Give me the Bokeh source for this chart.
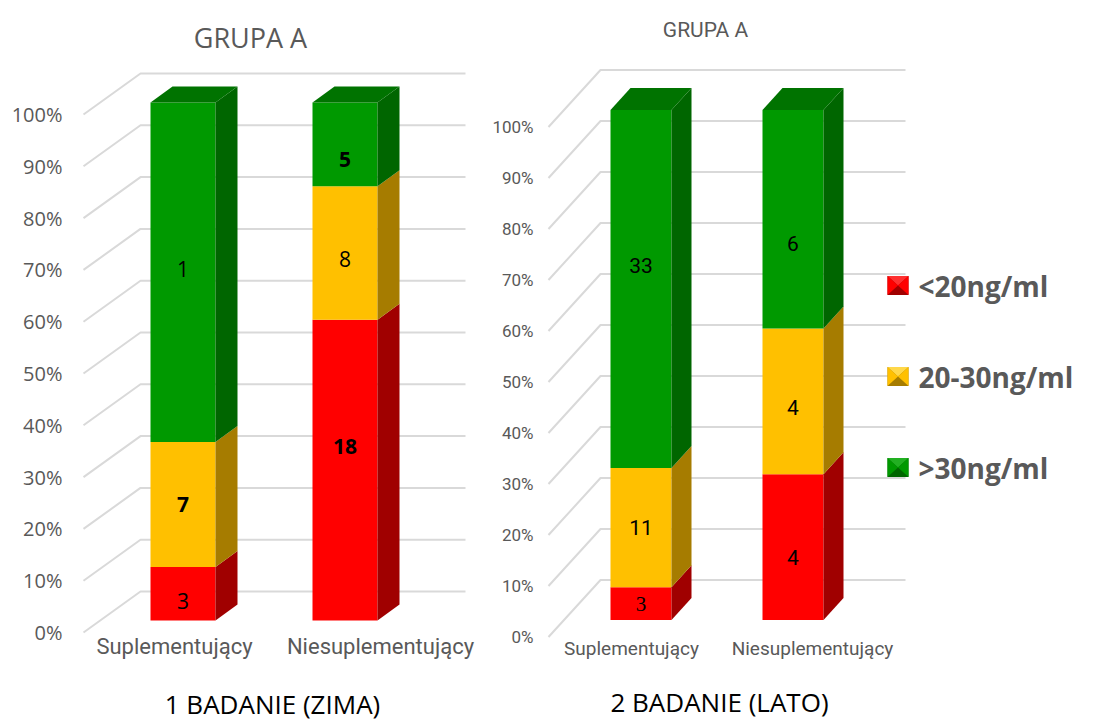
from bokeh.plotting import figure
from bokeh.layouts import row
from bokeh.models import Range1d, FixedTicker, PrintfTickFormatter
from bokeh.core.properties import value
from bokeh.embed import file_html
from bokeh.resources import INLINE

# ---------------------------------------------------------------- data
categories = ["Suplementujący", "Niesuplementujący"]
levels = ["<20ng/ml", "20-30ng/ml", ">30ng/ml"]

# 1 BADANIE (ZIMA) - counts per category
zima_low = [3, 18]
zima_mid = [7, 8]
zima_high = [19, 5]
# printed segment labels (bottom, middle, top) per category
zima_text_low = ["3", "18"]
zima_text_mid = ["7", "8"]
zima_text_high = ["1", "5"]

# 2 BADANIE (LATO) - counts per category
lato_low = [3, 4]
lato_mid = [11, 4]
lato_high = [33, 6]
lato_text_low = ["3", "4"]
lato_text_mid = ["11", "4"]
lato_text_high = ["33", "6"]

y_ticks = [0, 10, 20, 30, 40, 50, 60, 70, 80, 90, 100]

# ---------------------------------------------------------------- style
H = 722
FRONT = ["#FF0000", "#FFC000", "#009900"]
SIDE = ["#A00000", "#A67C00", "#006600"]
TOP = ["#C00000", "#D9A300", "#007300"]
GRID = "#D9D9D9"
GREY = "#595959"
NARROW = "Roboto"


def to_pct(counts):
    return [[c / sum(col) * 100 for c in col] for col in zip(*counts)]


def panel(width, border_left, y0, k, cfg):
    """One 3-D stacked 100% column chart. Horizontal data units equal
    pixels; vertical data units are percent on the front wall."""
    p = figure(width=width, height=H, output_backend="svg", toolbar_location=None,
               x_axis_type=None, min_border_left=border_left, min_border_right=0,
               min_border_top=0, min_border_bottom=0,
               x_range=Range1d(cfg["x0"], cfg["x0"] + width - border_left),
               y_range=Range1d(-(H - y0) / k, y0 / k))
    p.outline_line_color = None
    p.grid.visible = False
    p.background_fill_color = "white"
    p.border_fill_color = "white"

    ax = p.yaxis[0]
    ax.ticker = FixedTicker(ticks=y_ticks)
    ax.formatter = PrintfTickFormatter(format="%d%%")
    ax.axis_line_color = None
    ax.major_tick_line_color = None
    ax.minor_tick_line_color = None
    ax.major_tick_out = 0
    ax.major_label_standoff = cfg["standoff"]
    ax.major_label_text_font = cfg["tick_font"]
    ax.major_label_text_font_size = cfg["tick_size"]
    ax.major_label_text_color = GREY

    def py(px):
        # screen row -> vertical data value
        return (y0 - px) / k

    depth = cfg["depth_px"] / k
    gx0, gdx, gx1 = cfg["grid_x"]
    xs, ys = [], []
    for t in y_ticks:
        xs.append([gx0, gx0 + gdx, gx1])
        ys.append([t, t + depth, t + depth])
    p.multi_line(xs, ys, line_color=GRID, line_width=2)

    oy = cfg["front_frac"] * depth
    sdx = cfg["side_dx"]
    sdy = cfg["side_dy"] / k
    bw = cfg["bar_w"]
    pcts = to_pct(cfg["counts"])
    texts = cfg["texts"]
    nudge = cfg["nudge"]

    for i, cat in enumerate(categories):
        xl = cfg["bar_x"] + i * cfg["bar_gap"]
        xr = xl + bw
        base = 0.0
        for j in range(3):
            top = base + pcts[i][j]
            p.quad(left=[xl], right=[xr], bottom=[base + oy], top=[top + oy],
                   fill_color=FRONT[j], line_color=None)
            p.patch([xr, xr + sdx, xr + sdx, xr],
                    [base + oy, base + oy + sdy, top + oy + sdy, top + oy],
                    fill_color=SIDE[j], line_color=None)
            if j == 2:
                p.patch([xl, xl + sdx, xr + sdx, xr],
                        [top + oy, top + oy + sdy, top + oy + sdy, top + oy],
                        fill_color=TOP[j], line_color=None)
            font, style, size = cfg["label_font"](i, j)
            p.text([(xl + xr) / 2], [(base + top) / 2 + oy - nudge[j][i] / k],
                   text=[texts[j][i]],
                   text_font=value(font), text_font_style=style,
                   text_font_size=size, text_color="#000000",
                   text_align="center", text_baseline="middle")
            base = top
        p.text([cfg["cat_x"][i]], [py(cfg["cat_mid"])], text=[cat],
               text_font=value(NARROW), text_font_size=cfg["cat_size"],
               text_color=GREY, text_align="center", text_baseline="middle")

    p.text([cfg["title_x"]], [py(cfg["title_mid"])], text=["GRUPA A"],
           text_font=value(cfg["title_font"]), text_font_size=cfg["title_size"],
           text_color=GREY, text_align="center", text_baseline="middle")
    p.text([cfg["cap_x"]], [py(cfg["cap_mid"])], text=[cfg["caption"]],
           text_font=value("Open Sans"), text_font_size="26px",
           text_color="#000000", text_align="center", text_baseline="middle")
    return p, py


def zima_font(i, j):
    bold = {(0, 1), (1, 0), (1, 2)}
    return "Open Sans", ("bold" if (i, j) in bold else "normal"), "21px"


def lato_font(i, j):
    if (i, j) == (0, 0):
        return "Liberation Serif", "normal", "21px"
    return NARROW, "normal", "21px"


left_cfg = dict(
    x0=70, standoff=8, tick_font="Open Sans", tick_size="20px",
    depth_px=41, grid_x=(83, 57, 465),
    front_frac=0.29, side_dx=22, side_dy=16,
    bar_x=150, bar_gap=162, bar_w=65,
    counts=[zima_low, zima_mid, zima_high],
    texts=[zima_text_low, zima_text_mid, zima_text_high],
    nudge=[[7, -24], [0, 6], [-3, 15]],
    label_font=zima_font,
    cat_x=[174, 380], cat_mid=646, cat_size="22px",
    title_x=250, title_mid=37, title_font="Open Sans", title_size="27px",
    cap_x=272, cap_mid=703, caption="1 BADANIE (ZIMA)",
)

right_cfg = dict(
    x0=545, standoff=12, tick_font=NARROW, tick_size="17px",
    depth_px=57, grid_x=(548, 52, 905),
    front_frac=0.30, side_dx=20, side_dy=22,
    bar_x=610, bar_gap=152, bar_w=61,
    counts=[lato_low, lato_mid, lato_high],
    texts=[lato_text_low, lato_text_mid, lato_text_high],
    nudge=[[0, 10], [0, 6], [-23, 24]],
    label_font=lato_font,
    cat_x=[631, 812], cat_mid=648, cat_size="19px",
    title_x=705, title_mid=29, title_font=NARROW, title_size="21px",
    cap_x=719, cap_mid=701, caption="2 BADANIE (LATO)",
)

p1, _ = panel(485, 70, 632, 5.18, left_cfg)
p2, py2 = panel(612, 60, 636.5, 5.1, right_cfg)

# legend with bevelled square swatches
leg_rows = [285, 376, 467]
LIGHT = ["#FF3030", "#FFD84A", "#22B022"]
for j, name in enumerate(levels):
    cy = py2(leg_rows[j])
    hx, hy = 10.5, 9.5 / 5.1
    cx = 897.5
    p2.quad(left=[cx - hx], right=[cx + hx], bottom=[cy - hy], top=[cy + hy],
            fill_color=SIDE[j], line_color=None)
    p2.patch([cx - hx, cx + hx, cx], [cy + hy, cy + hy, cy], fill_color=LIGHT[j], line_color=None)
    p2.patch([cx - hx, cx, cx - hx], [cy + hy, cy, cy - hy], fill_color=FRONT[j], line_color=None)
    p2.patch([cx + hx, cx, cx + hx], [cy + hy, cy, cy - hy], fill_color=FRONT[j], line_color=None)
    p2.text([918], [cy], text=[name],
            text_font=value("Open Sans"), text_font_style="bold",
            text_font_size="28px", text_color=GREY,
            text_align="left", text_baseline="middle")

layout = row(p1, p2, spacing=0)
open("out.html", "w").write(file_html(layout, INLINE))
